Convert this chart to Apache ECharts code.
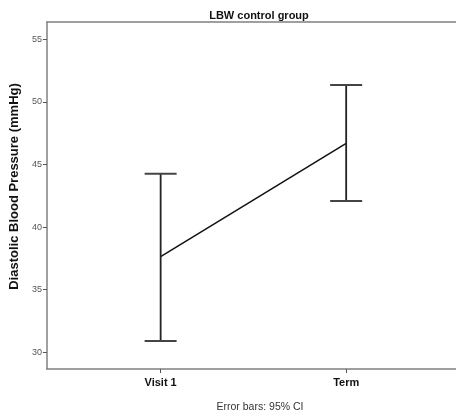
<!DOCTYPE html>
<html>
<head>
<meta charset="utf-8">
<script src="https://cdn.jsdelivr.net/npm/echarts@6/dist/echarts.min.js"></script>
<style>html,body{margin:0;padding:0;background:#fff}#c{width:456px;height:412px}</style>
</head>
<body>
<div id="c"></div>
<script>
var categories = ['Visit 1', 'Term'];
var means = [37.64, 46.69];
var lowerCI = [30.9, 42.08];
var upperCI = [44.26, 51.35];
var yTicks = [30, 35, 40, 45, 50, 55];
var xPositions = [1, 2];

var chart = echarts.init(document.getElementById('c'), null, {renderer: 'canvas'});
var font = 'Liberation Sans, Arial, sans-serif';
var lineData = xPositions.map(function (x, i) { return [x, means[i]]; });
var errData = xPositions.map(function (x, i) { return [x, lowerCI[i], upperCI[i]]; });
var frameLine = {show: true, lineStyle: {color: '#808080', width: 1.5}};

chart.setOption({
  animation: false,
  backgroundColor: '#fff',
  title: [
    {text: 'LBW control group', left: 254, top: 5, textAlign: 'center',
     textStyle: {fontFamily: font, fontSize: 11, fontWeight: 'bold', color: '#111'}},
    {text: 'Error bars: 95% CI', left: 255, top: 397, textAlign: 'center',
     textStyle: {fontFamily: font, fontSize: 10.5, fontWeight: 'normal', color: '#333'}}
  ],
  grid: {left: 45, top: 22, right: 0, bottom: 43, show: false},
  xAxis: [{
    type: 'value', min: 0.387, max: 2.592,
    splitLine: {show: false},
    axisLine: frameLine,
    axisTick: {show: true, length: 4, customValues: xPositions, lineStyle: {color: '#555'}},
    axisLabel: {customValues: xPositions, margin: 8, fontFamily: font, fontSize: 11, fontWeight: 'bold', color: '#111',
      formatter: function (v) { return categories[Math.round(v) - 1] || ''; }}
  }, {
    type: 'value', position: 'top', min: 0.387, max: 2.592,
    splitLine: {show: false}, axisLine: frameLine,
    axisTick: {show: false}, axisLabel: {show: false}
  }],
  yAxis: {
    type: 'value', min: 28.67, max: 56.38,
    name: 'Diastolic Blood Pressure (mmHg)', nameLocation: 'middle', nameGap: 17,
    nameTextStyle: {fontFamily: font, fontSize: 13, fontWeight: 'bold', color: '#111', padding: [0, 0, 0, 18]},
    splitLine: {show: false},
    axisLine: frameLine,
    axisTick: {show: true, length: 4, customValues: yTicks, lineStyle: {color: '#555'}},
    axisLabel: {customValues: yTicks, margin: 5, fontFamily: font, fontSize: 9, color: '#555'}
  },
  series: [
    {type: 'line', data: lineData, showSymbol: false, symbol: 'none',
     lineStyle: {color: '#111', width: 1.5}, z: 3},
    {type: 'custom', data: errData, z: 4,
     renderItem: function (params, api) {
       var x = api.value(0);
       var lo = api.coord([x, api.value(1)]);
       var hi = api.coord([x, api.value(2)]);
       var hw = 16;
       var cap = {stroke: '#444', lineWidth: 2};
       return {type: 'group', children: [
         {type: 'line', shape: {x1: lo[0], y1: lo[1], x2: hi[0], y2: hi[1]}, style: {stroke: '#222', lineWidth: 1.8}},
         {type: 'line', shape: {x1: lo[0] - hw, y1: lo[1], x2: lo[0] + hw, y2: lo[1]}, style: cap},
         {type: 'line', shape: {x1: hi[0] - hw, y1: hi[1], x2: hi[0] + hw, y2: hi[1]}, style: cap}
       ]};
     }}
  ]
});
</script>
</body>
</html>
